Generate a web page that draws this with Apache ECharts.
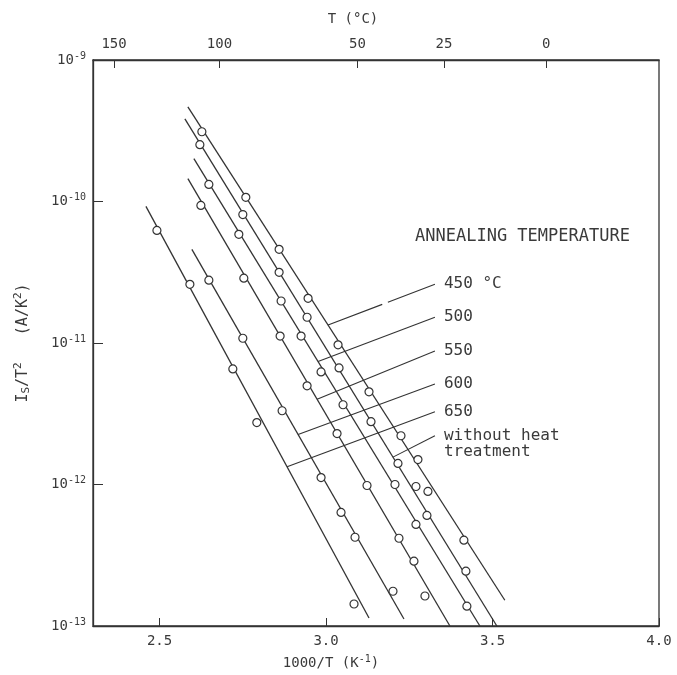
<!DOCTYPE html>
<html>
<head>
<meta charset="utf-8">
<script src="https://cdn.jsdelivr.net/npm/echarts@6/dist/echarts.min.js"></script>
<style>
  html, body { margin: 0; background: #fff; }
  #main { width: 677px; height: 675px; }
</style>
</head>
<body>
<div id="main"></div>
<script>
// fitted lines, [1000/T, Is/T^2] at both ends
var line450 = [[2.585, 4.67e-10], [3.537, 1.52e-13]];
var lineNone = [[2.576, 3.84e-10], [3.513, 1.0e-13]];
var line500 = [[2.603, 2.01e-10], [3.462, 1.0e-13]];
var line550 = [[2.585, 1.45e-10], [3.372, 1.0e-13]];
var line600 = [[2.597, 4.59e-11], [3.234, 1.12e-13]];
var line650 = [[2.459, 9.23e-11], [3.129, 1.14e-13]];

// measured points
var pts450 = [[2.627, 3.11e-10], [2.759, 1.07e-10], [2.859, 4.59e-11], [2.946, 2.07e-11], [3.036, 9.7e-12],
  [3.129, 4.52e-12], [3.225, 2.21e-12], [3.276, 1.50e-12], [3.306, 8.93e-13], [3.414, 4.04e-13]];
var ptsNone = [[2.621, 2.52e-10], [2.750, 8.09e-11], [2.859, 3.16e-11], [2.943, 1.52e-11], [3.039, 6.67e-12],
  [3.135, 2.78e-12], [3.216, 1.41e-12], [3.270, 9.68e-13], [3.303, 6.05e-13], [3.420, 2.44e-13]];
var pts500 = [[2.648, 1.32e-10], [2.738, 5.86e-11], [2.865, 1.98e-11], [2.925, 1.12e-11], [2.985, 6.25e-12],
  [3.051, 3.66e-12], [3.207, 1.0e-12], [3.270, 5.22e-13], [3.423, 1.38e-13]];
var pts550 = [[2.624, 9.38e-11], [2.753, 2.87e-11], [2.862, 1.12e-11], [2.943, 4.98e-12], [3.033, 2.29e-12],
  [3.123, 9.84e-13], [3.219, 4.17e-13], [3.264, 2.87e-13], [3.297, 1.63e-13]];
var pts600 = [[2.648, 2.78e-11], [2.750, 1.08e-11], [2.868, 3.32e-12], [2.985, 1.12e-12], [3.045, 6.35e-13],
  [3.087, 4.24e-13], [3.201, 1.76e-13]];
var pts650 = [[2.492, 6.25e-11], [2.591, 2.60e-11], [2.720, 6.56e-12], [2.792, 2.74e-12], [3.084, 1.43e-13]];

var names = ['450 °C', '500', '550', '600', '650', 'without heat\ntreatment'];
var xTicks = [2.5, 3.0, 3.5, 4.0];
var topTicksC = [150, 100, 50, 25, 0];

var ink = '#333';
var txt = '#3a3a3a';
var font = 'DejaVu Sans Mono';

// where each label leader meets its line and where its text sits
var leaders = [
  { line: line450, atX: 3.006, to: [3.327, 2.60e-11], dash: [58, 6] },
  { line: line500, atX: 2.976, to: [3.327, 1.52e-11] },
  { line: line550, atX: 2.973, to: [3.327, 8.79e-12] },
  { line: line600, atX: 2.916, to: [3.327, 5.14e-12] },
  { line: line650, atX: 2.883, to: [3.327, 3.27e-12] },
  { line: lineNone, atX: 3.201, to: [3.327, 2.21e-12], offset: [0, 8] }
];

function onLine(line, x) {
  var a = line[0], b = line[1];
  var la = Math.log10(a[1]), lb = Math.log10(b[1]);
  return Math.pow(10, la + (lb - la) * (x - a[0]) / (b[0] - a[0]));
}

var lines = [line450, lineNone, line500, line550, line600, line650];
var pts = [pts450, ptsNone, pts500, pts550, pts600, pts650];

var series = [];
lines.forEach(function (l) {
  series.push({
    type: 'line', data: l, symbol: 'none', silent: true, z: 2,
    lineStyle: { color: ink, width: 1.3 }
  });
});
pts.forEach(function (p) {
  series.push({
    type: 'scatter', data: p, symbol: 'circle', symbolSize: 8, z: 4,
    itemStyle: { color: '#fff', borderColor: ink, borderWidth: 1.2, opacity: 1 }
  });
});
leaders.forEach(function (ld, i) {
  series.push({
    type: 'line', symbol: 'none', silent: true, z: 3,
    data: [[ld.atX, onLine(ld.line, ld.atX)], ld.to],
    lineStyle: { color: ink, width: 1.1, type: ld.dash || 'solid' },
    endLabel: {
      show: true, formatter: names[i], distance: 9, offset: ld.offset || [0, 0],
      color: txt, fontFamily: font, fontSize: 16, lineHeight: 16
    }
  });
});

var supRich = {
  a: { color: txt, fontFamily: font, fontSize: 14 },
  b: { color: txt, fontFamily: font, fontSize: 10, padding: [0, 0, 8, 0] }
};

var option = {
  animation: false,
  grid: { left: 93, right: 18, top: 60, bottom: 47, show: true, borderColor: ink, borderWidth: 1.3 },
  xAxis: [{
    type: 'value', min: 2.3, max: 4.0,
    name: '{a|1000/T (K}{b|-1}{a|)}', nameLocation: 'middle', nameGap: 28,
    nameTextStyle: { padding: [0, 90, 0, 0], rich: supRich },
    axisLine: { lineStyle: { color: ink, width: 1.3 } },
    axisTick: { inside: true, length: 8, lineStyle: { color: ink }, customValues: xTicks },
    axisLabel: {
      customValues: xTicks, margin: 8, color: txt, fontFamily: font, fontSize: 14,
      formatter: function (v) { return v.toFixed(1); }
    },
    splitLine: { show: false }
  }, {
    type: 'value', position: 'top', min: 2.3, max: 4.0,
    name: 'T (°C)', nameLocation: 'middle', nameGap: 34,
    nameTextStyle: { color: txt, fontFamily: font, fontSize: 14, padding: [0, 46, 0, 0] },
    axisLine: { lineStyle: { color: ink, width: 1.3 } },
    axisTick: {
      inside: true, length: 8, lineStyle: { color: ink },
      customValues: topTicksC.map(function (c) { return 1000 / (c + 273.15); })
    },
    axisLabel: {
      customValues: topTicksC.map(function (c) { return 1000 / (c + 273.15); }),
      margin: 9, color: txt, fontFamily: font, fontSize: 14,
      formatter: function (v) { return String(Math.round(1000 / v - 273.15)); }
    },
    splitLine: { show: false }
  }],
  yAxis: {
    type: 'log', logBase: 10, min: 1e-13, max: 1e-9, splitNumber: 4,
    name: '{a|I}{s|S}{a|/T}{b|2}{a|   (A/K}{b|2}{a|)}', nameLocation: 'middle', nameGap: 60, nameRotate: 90,
    nameTextStyle: {
      rich: {
        a: { color: txt, fontFamily: font, fontSize: 15 },
        s: { color: txt, fontFamily: font, fontSize: 11, padding: [7, 0, 0, 0] },
        b: { color: txt, fontFamily: font, fontSize: 11, padding: [0, 0, 9, 0] }
      }
    },
    axisLine: { show: true, lineStyle: { color: ink, width: 1.3 } },
    axisTick: { inside: true, length: 10, lineStyle: { color: ink } },
    minorTick: { show: false },
    axisLabel: {
      margin: 7, rich: supRich,
      formatter: function (v) { return '{a|10}{b|' + Math.round(Math.log10(v)) + '}'; }
    },
    splitLine: { show: false }
  },
  graphic: [{
    type: 'text', left: 415, top: 228,
    style: { text: 'ANNEALING TEMPERATURE', fill: txt, font: '17px "DejaVu Sans Mono"' }
  }],
  series: series
};

var chart = echarts.init(document.getElementById('main'), null, { renderer: 'canvas' });
chart.setOption(option);
</script>
</body>
</html>
